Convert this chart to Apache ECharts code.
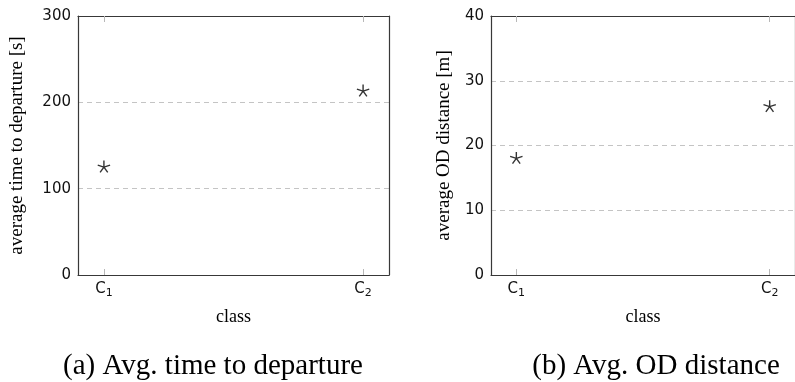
<!DOCTYPE html>
<html>
<head>
<meta charset="utf-8">
<script src="https://cdn.jsdelivr.net/npm/echarts@6/dist/echarts.min.js"></script>
<style>
html,body{margin:0;padding:0;background:#fff;}
#chart{width:795px;height:382px;}
</style>
</head>
<body>
<div id="chart"></div>
<script>
// ---- data ----
const classes = ['C_1', 'C_2'];
const classPositions = [1, 2];
const timeValues = [125, 213];     // average time to departure [s]
const distValues = [18, 26];       // average OD distance [m]
const timeTicks = [0, 100, 200, 300];
const distTicks = [0, 10, 20, 30, 40];
const captions = ['(a) Avg. time to departure', '(b) Avg. OD distance'];
const yTitles = ['average time to departure [s]', 'average OD distance [m]'];
const xTitle = 'class';

// ---- styles ----
const axisColor = '#383838';
const tickColor = '#b8b8b8';
const gridColor = '#c4c4c4';
const sansFont = 'DejaVu Sans';
const serifFont = 'Liberation Serif';
const star = 'path://M-10,-10M10,10M0,0L0,-10M0,0L9.51,-3.09M0,0L5.88,8.09M0,0L-5.88,8.09M0,0L-9.51,-3.09';

function fmtClass(v) {
  const idx = classPositions.indexOf(v);
  if (idx < 0) return '';
  const parts = classes[idx].split('_');
  return '{b|' + parts[0] + '}{s|' + parts[1] + '}';
}

const grids = [
  {left: 78, top: 16, width: 311, height: 259},
  {left: 491, top: 16, width: 311, height: 259}
];

function xAxes(gi) {
  return [{
    gridIndex: gi, type: 'value', position: 'bottom', min: 0.9, max: 2.1,
    name: xTitle, nameLocation: 'middle', nameGap: 33,
    nameTextStyle: {fontFamily: serifFont, fontSize: 18, color: '#000'},
    axisLine: {show: true, onZero: false, lineStyle: {color: axisColor, width: 1.2}},
    axisTick: {show: true, inside: true, length: 6, customValues: classPositions, lineStyle: {color: tickColor, width: 1}},
    axisLabel: {show: true, customValues: classPositions, formatter: fmtClass, margin: 5,
      rich: {
        b: {fontFamily: sansFont, fontSize: 15, color: '#111'},
        s: {fontFamily: sansFont, fontSize: 11, color: '#111', verticalAlign: 'bottom', padding: [8, 0, 0, 0]}
      }},
    splitLine: {show: false}
  }, {
    gridIndex: gi, type: 'value', position: 'top', min: 0.9, max: 2.1,
    axisLine: {show: true, onZero: false, lineStyle: {color: axisColor, width: 1.2}},
    axisTick: {show: true, inside: true, length: 6, customValues: classPositions, lineStyle: {color: tickColor, width: 1}},
    axisLabel: {show: false},
    splitLine: {show: false}
  }];
}

function yAxes(gi, ticks, title, gap) {
  const mx = ticks[ticks.length - 1];
  const iv = ticks[1] - ticks[0];
  return [{
    gridIndex: gi, type: 'value', position: 'left', min: ticks[0], max: mx, interval: iv,
    name: title, nameLocation: 'middle', nameGap: gap, nameRotate: 90,
    nameTextStyle: {fontFamily: serifFont, fontSize: 19, color: '#000'},
    axisLine: {show: true, onZero: false, lineStyle: {color: axisColor, width: 1.2}},
    axisTick: {show: false},
    axisLabel: {fontFamily: sansFont, fontSize: 15, color: '#111', margin: 7},
    splitLine: {show: true, lineStyle: {color: gridColor, type: [5, 4], width: 1}}
  }, {
    gridIndex: gi, type: 'value', position: 'right', min: ticks[0], max: mx, interval: iv,
    axisLine: {show: true, onZero: false, lineStyle: {color: axisColor, width: 1.2}},
    axisTick: {show: false}, axisLabel: {show: false}, splitLine: {show: false}
  }];
}

const option = {
  animation: false,
  backgroundColor: '#fff',
  grid: grids,
  xAxis: [...xAxes(0), ...xAxes(1)],
  yAxis: [...yAxes(0, timeTicks, yTitles[0], 51), ...yAxes(1, distTicks, yTitles[1], 37)],
  series: [{
    type: 'scatter', xAxisIndex: 0, yAxisIndex: 0,
    data: timeValues.map((v, i) => [classPositions[i], v]),
    symbol: star, symbolSize: 13,
    itemStyle: {color: 'rgba(0,0,0,0)', borderColor: '#000', borderWidth: 1.4}
  }, {
    type: 'scatter', xAxisIndex: 2, yAxisIndex: 2,
    data: distValues.map((v, i) => [classPositions[i], v]),
    symbol: star, symbolSize: 13,
    itemStyle: {color: 'rgba(0,0,0,0)', borderColor: '#000', borderWidth: 1.4}
  }],
  graphic: [
    {type: 'text', x: 213, y: 366, style: {text: captions[0], font: '29px "Liberation Serif"', fill: '#000', textAlign: 'center', textVerticalAlign: 'middle'}},
    {type: 'text', x: 656, y: 366, style: {text: captions[1], font: '29px "Liberation Serif"', fill: '#000', textAlign: 'center', textVerticalAlign: 'middle'}}
  ]
};

const chart = echarts.init(document.getElementById('chart'), null, {renderer: 'canvas'});
chart.setOption(option);
</script>
</body>
</html>
